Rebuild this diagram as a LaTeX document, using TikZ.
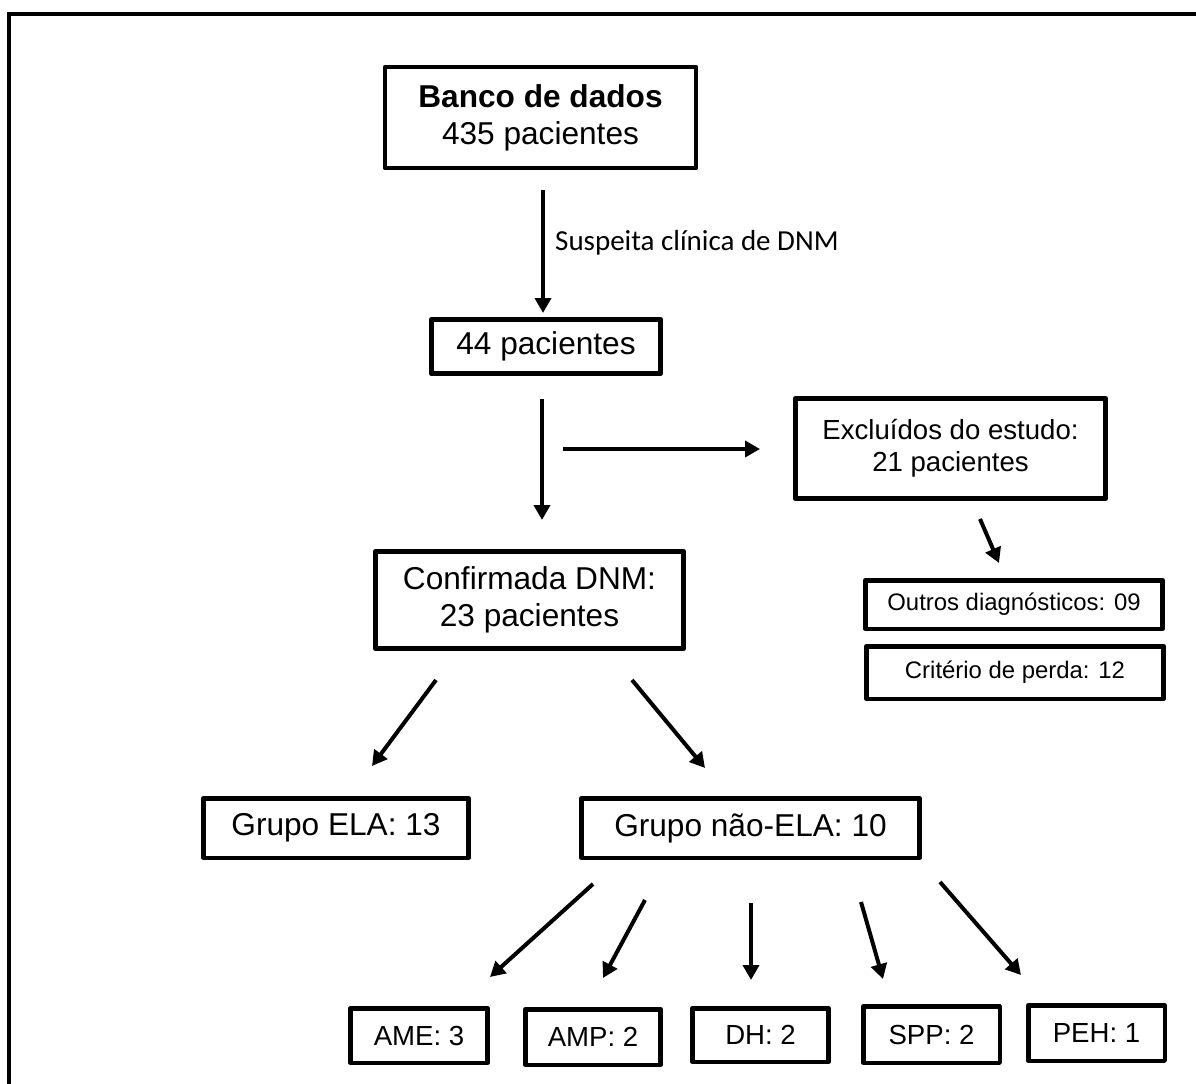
\documentclass[tikz,border=0pt]{standalone}
\usepackage{fontspec}
\setmainfont{Liberation Sans}
\newfontfamily\rotulofont{Carlito}
\usetikzlibrary{arrows.meta}
\definecolor{fluxoborda}{RGB}{0,0,0}

\begin{document}
\begin{tikzpicture}[x=0.02cm,y=-0.02cm,>={Triangle[length=0.3cm,width=0.32cm]},line join=round,
  caixa/.style={draw=fluxoborda,line width=0.09cm,inner sep=0pt,align=center,font=\fontsize{18}{21}\selectfont},
  caixamedia/.style={caixa,font=\fontsize{15.7}{18.2}\selectfont},
  caixapequena/.style={caixa,font=\fontsize{13.6}{16}\selectfont},
  seta/.style={->,draw=fluxoborda,line width=0.08cm}]
 \useasboundingbox (0,0) rectangle (1196,1084);
 % moldura aberta
 \draw[fluxoborda,line width=0.092cm,line join=miter] (9,1100) -- (9,14) -- (1210,14);

 % caixas
 \node[caixa,minimum width=6.22cm,minimum height=2.02cm] (banco) at (540.5,117.5)
  {\textbf{Banco de dados}\\435 pacientes};
 \node[caixa,minimum width=4.59cm,minimum height=1.09cm] (p44) at (546,346.5) {44 pacientes};
 \node[caixamedia,minimum width=6.21cm,minimum height=2.01cm] (excl) at (950.5,448.5)
  {Excluídos do estudo:\\21 pacientes};
 \node[caixapequena,minimum width=5.95cm,minimum height=0.97cm] (outros) at (1014,604.5) {Outros diagnósticos: 09};
 \node[caixapequena,minimum width=5.95cm,minimum height=1.05cm] (perda) at (1015,672.5) {Critério de perda: 12};
 \node[caixa,minimum width=6.17cm,minimum height=1.95cm] (confirm) at (529.5,600)
  {Confirmada DNM:\\23 pacientes};
 \node[caixa,minimum width=5.31cm,minimum height=1.19cm] (ela) at (336,828) {Grupo ELA: 13};
 \node[caixa,minimum width=6.77cm,minimum height=1.19cm] (naoela) at (750.5,828) {Grupo não-ELA: 10};
 \node[caixamedia,minimum width=2.75cm,minimum height=1.09cm] (ame) at (419,1035.5) {AME: 3};
 \node[caixamedia,minimum width=2.71cm,minimum height=1.11cm] (amp) at (593,1037) {AMP: 2};
 \node[caixamedia,minimum width=2.73cm,minimum height=1.07cm] (dh) at (760.5,1035) {DH: 2};
 \node[caixamedia,minimum width=2.73cm,minimum height=1.13cm] (spp) at (931.5,1034.5) {SPP: 2};
 \node[caixamedia,minimum width=2.73cm,minimum height=1.11cm] (peh) at (1096.5,1033) {PEH: 1};

 % pontas das setas
 \coordinate (s1a) at (543,190);  \coordinate (s1b) at (543,313);
 \coordinate (s2a) at (542,399);  \coordinate (s2b) at (542,520);
 \coordinate (sxa) at (563,449);  \coordinate (sxb) at (760,449);
 \coordinate (sea) at (980,519);  \coordinate (seb) at (999,563);
 \coordinate (c1a) at (436,680);  \coordinate (c1b) at (372,766);
 \coordinate (c2a) at (632,680);  \coordinate (c2b) at (705,768);
 \coordinate (n1a) at (593,884);  \coordinate (n1b) at (490,977);
 \coordinate (n2a) at (645,900);  \coordinate (n2b) at (603,978);
 \coordinate (n3a) at (751,903);  \coordinate (n3b) at (751,980);
 \coordinate (n4a) at (861,902);  \coordinate (n4b) at (883,979);
 \coordinate (n5a) at (940,882);  \coordinate (n5b) at (1021,975);

 \draw[seta] (s1a) -- (s1b);
 \node[anchor=west,font=\rotulofont\fontsize{16.5}{19}\selectfont] (suspeita) at (549,243) {Suspeita clínica de DNM};
 \draw[seta] (s2a) -- (s2b);
 \draw[seta] (sxa) -- (sxb);
 \draw[seta] (sea) -- (seb);
 \draw[seta] (c1a) -- (c1b);
 \draw[seta] (c2a) -- (c2b);
 \draw[seta] (n1a) -- (n1b);
 \draw[seta] (n2a) -- (n2b);
 \draw[seta] (n3a) -- (n3b);
 \draw[seta] (n4a) -- (n4b);
 \draw[seta] (n5a) -- (n5b);
\end{tikzpicture}
\end{document}
